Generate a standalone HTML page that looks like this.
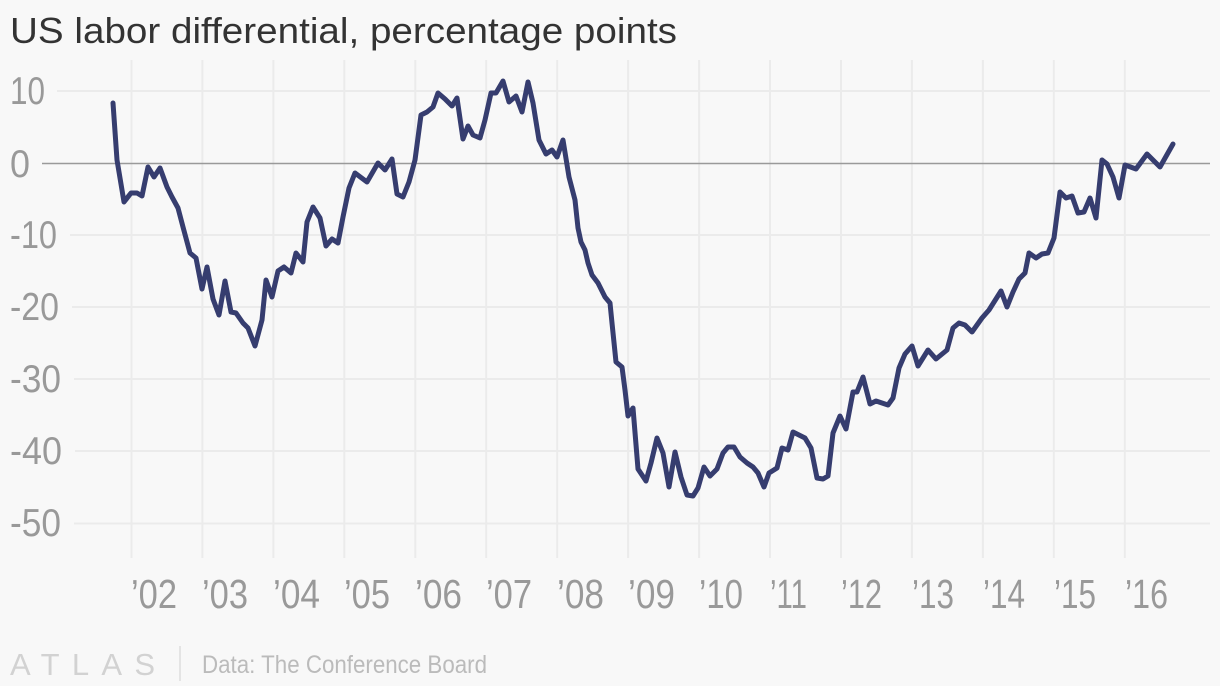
<!DOCTYPE html>
<html>
<head>
<meta charset="utf-8">
<style>
  html, body { margin:0; padding:0; background:#f8f8f8; }
  body { width:1220px; height:686px; overflow:hidden; }
  svg { display:block; }
  text { font-family:"Liberation Sans", "DejaVu Sans", sans-serif; }
</style>
</head>
<body>
<svg width="1220" height="686" viewBox="0 0 1220 686" xmlns="http://www.w3.org/2000/svg">
  <rect x="0" y="0" width="1220" height="686" fill="#f8f8f8"/>

  <!-- Title -->
  <text x="10" y="43" font-size="36" fill="#333333" textLength="667" lengthAdjust="spacingAndGlyphs">US labor differential, percentage points</text>

  <!-- vertical gridlines -->
  <g stroke="#ebebeb" stroke-width="2">
    <line x1="131.5" y1="60" x2="131.5" y2="558"/>
    <line x1="202.4" y1="60" x2="202.4" y2="558"/>
    <line x1="273.4" y1="60" x2="273.4" y2="558"/>
    <line x1="344.3" y1="60" x2="344.3" y2="558"/>
    <line x1="415.3" y1="60" x2="415.3" y2="558"/>
    <line x1="486.2" y1="60" x2="486.2" y2="558"/>
    <line x1="557.2" y1="60" x2="557.2" y2="558"/>
    <line x1="628.1" y1="60" x2="628.1" y2="558"/>
    <line x1="699.1" y1="60" x2="699.1" y2="558"/>
    <line x1="770.0" y1="60" x2="770.0" y2="558"/>
    <line x1="841.0" y1="60" x2="841.0" y2="558"/>
    <line x1="911.9" y1="60" x2="911.9" y2="558"/>
    <line x1="982.9" y1="60" x2="982.9" y2="558"/>
    <line x1="1053.8" y1="60" x2="1053.8" y2="558"/>
    <line x1="1124.8" y1="60" x2="1124.8" y2="558"/>
  </g>

  <!-- horizontal gridlines -->
  <g stroke="#ebebeb" stroke-width="2">
    <line x1="57" y1="91" x2="1210" y2="91"/>
    <line x1="70" y1="235" x2="1210" y2="235"/>
    <line x1="72" y1="307" x2="1210" y2="307"/>
    <line x1="74" y1="379" x2="1210" y2="379"/>
    <line x1="75" y1="451" x2="1210" y2="451"/>
    <line x1="74" y1="523.5" x2="1210" y2="523.5"/>
  </g>
  <line x1="42" y1="163.5" x2="1210" y2="163.5" stroke="#9a9a9a" stroke-width="1.6"/>

  <!-- Y labels -->
  <g font-size="39" fill="#999999">
    <text x="10" y="104" textLength="35" lengthAdjust="spacingAndGlyphs">10</text>
    <text x="10" y="177" textLength="20" lengthAdjust="spacingAndGlyphs">0</text>
    <text x="10" y="248" textLength="47" lengthAdjust="spacingAndGlyphs">-10</text>
    <text x="10" y="320" textLength="49" lengthAdjust="spacingAndGlyphs">-20</text>
    <text x="10" y="392" textLength="51" lengthAdjust="spacingAndGlyphs">-30</text>
    <text x="10" y="464" textLength="52" lengthAdjust="spacingAndGlyphs">-40</text>
    <text x="10" y="536" textLength="51" lengthAdjust="spacingAndGlyphs">-50</text>
  </g>

  <!-- X labels -->
  <g font-size="41" fill="#999999">
    <text x="131" y="608" textLength="46" lengthAdjust="spacingAndGlyphs">’02</text>
    <text x="202" y="608" textLength="46" lengthAdjust="spacingAndGlyphs">’03</text>
    <text x="273" y="608" textLength="47" lengthAdjust="spacingAndGlyphs">’04</text>
    <text x="344" y="608" textLength="46" lengthAdjust="spacingAndGlyphs">’05</text>
    <text x="415" y="608" textLength="47" lengthAdjust="spacingAndGlyphs">’06</text>
    <text x="486" y="608" textLength="46" lengthAdjust="spacingAndGlyphs">’07</text>
    <text x="557" y="608" textLength="47" lengthAdjust="spacingAndGlyphs">’08</text>
    <text x="628" y="608" textLength="47" lengthAdjust="spacingAndGlyphs">’09</text>
    <text x="699" y="608" textLength="44" lengthAdjust="spacingAndGlyphs">’10</text>
    <text x="770" y="608" textLength="37" lengthAdjust="spacingAndGlyphs">’11</text>
    <text x="841" y="608" textLength="41" lengthAdjust="spacingAndGlyphs">’12</text>
    <text x="912" y="608" textLength="42" lengthAdjust="spacingAndGlyphs">’13</text>
    <text x="983" y="608" textLength="42" lengthAdjust="spacingAndGlyphs">’14</text>
    <text x="1054" y="608" textLength="42" lengthAdjust="spacingAndGlyphs">’15</text>
    <text x="1125" y="608" textLength="43" lengthAdjust="spacingAndGlyphs">’16</text>
  </g>

  <!-- Data line -->
  <polyline fill="none" stroke="#363d6f" stroke-width="5" stroke-linejoin="round" stroke-linecap="round"
    points="113,103 117,160 124,202 131,193 137,193 142,196 148,167 154,177 160,168 167,187 172,197 178,208 183,227 190,253 196,258 202,289 207,267 213,299 219,315 225,281 231,312 236,313 243,323 248,328 255,346 262,320 266,280 272,297 278,271 284,267 291,273 296,253 303,262 307,222 313,207 320,218 326,246 332,239 338,243 343,217 349,188 355,173 367,182 378,163 385,170 392,159 397,194 403,197 409,182 415,160 421,115 427,112 433,107 438,93 445,99 452,106 457,98 463,139 468,126 473,135 480,138 485,120 491,93 496,93 503,81 509,102 516,96 522,112 528,82 533,103 539,140 546,154 552,150 557,157 563,140 569,177 575,200 578,228 581,242 585,250 588,263 592,275 598,283 605,297 610,303 612,323 616,362 622,367 625,390 628,416 633,408 638,469 646,481 651,463 657,438 663,453 669,487 675,452 681,477 687,495 693,496 698,488 704,467 710,476 717,469 723,453 728,447 734,447 740,457 747,463 753,467 758,473 764,487 769,473 777,468 782,448 788,450 793,432 799,435 805,438 811,448 817,478 823,479 828,476 833,433 840,416 846,429 853,392 857,392 863,377 870,404 876,401 888,405 893,398 899,368 905,354 912,346 918,366 928,350 936,359 947,350 953,328 959,323 965,325 972,332 982,318 989,310 1001,291 1007,307 1013,292 1019,279 1025,273 1029,253 1036,258 1042,254 1048,253 1054,238 1060,192 1066,198 1072,196 1078,213 1084,212 1090,198 1096,218 1102,160 1107,164 1113,177 1119,198 1125,165 1136,169 1147,154 1160,167 1173,144"/>

  <!-- Footer -->
  <text x="10" y="675" font-size="31" fill="#d2d2d2" textLength="145" lengthAdjust="spacing">ATLAS</text>
  <line x1="180" y1="646" x2="180" y2="681" stroke="#dddddd" stroke-width="1.5"/>
  <text x="202" y="673" font-size="25" fill="#bbbbbb" textLength="285" lengthAdjust="spacingAndGlyphs">Data: The Conference Board</text>
</svg>
</body>
</html>
